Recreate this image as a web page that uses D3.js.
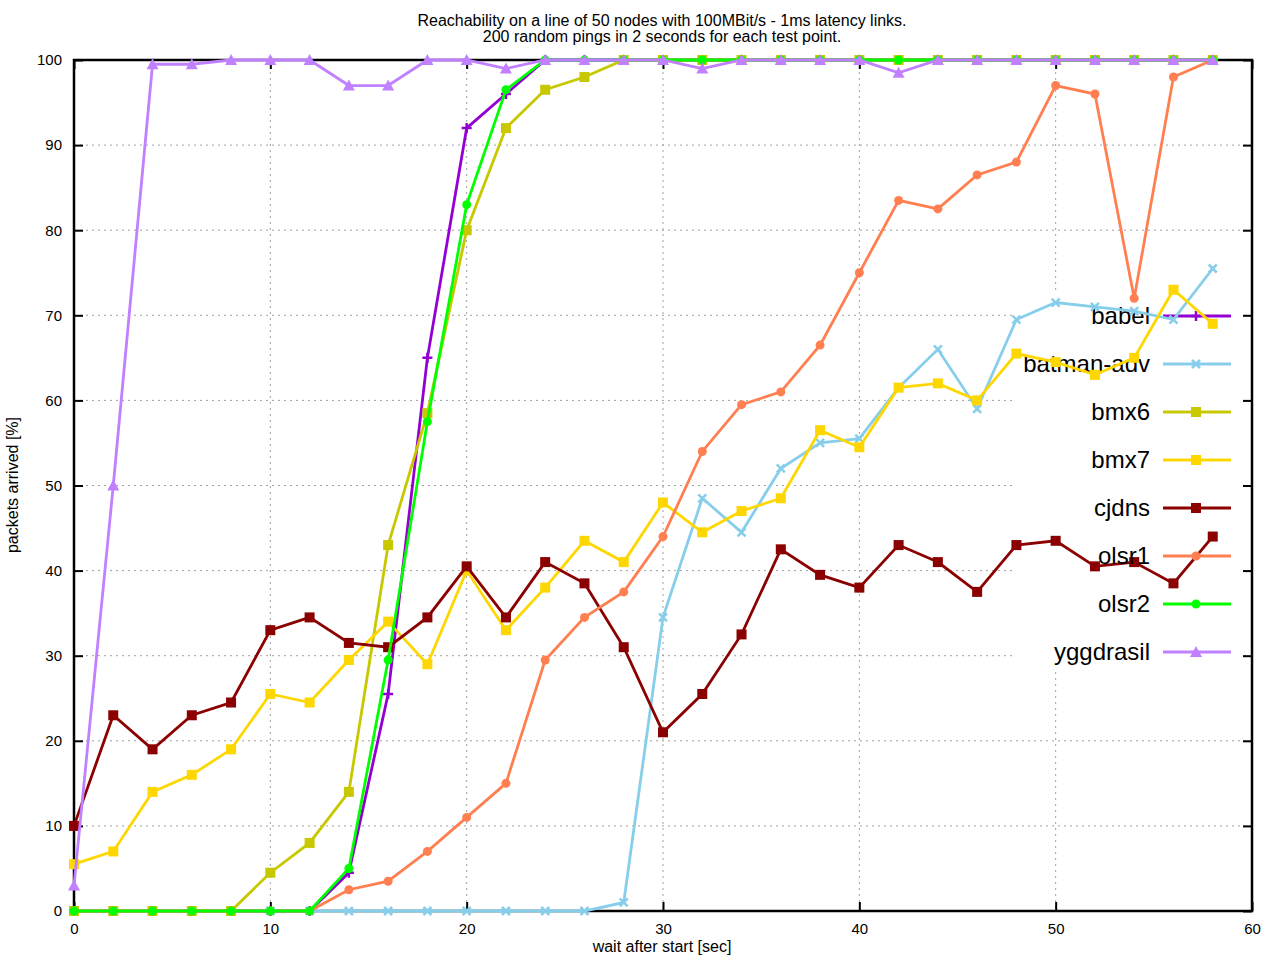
<!DOCTYPE html>
<head>
<meta charset="utf-8">
<script src="https://d3js.org/d3.v7.min.js"></script>
<style>
  body { margin: 0; background: white; font-family: 'Liberation Sans', Arial, sans-serif; }
</style>
</head>
<body>
<svg id="chart" width="1280" height="960"></svg>
<script>
var xs = d3.range(0, 60, 2);
var babel     = [0,0,0,0,0,0,0,4.5,25.5,65,92,96,100,100,100,100,100,100,100,100,100,100,100,100,100,100,100,100,100,100];
var batman    = [0,0,0,0,0,0,0,0,0,0,0,0,0,0,1,34.5,48.5,44.5,52,55,55.5,61.5,66,59,69.5,71.5,71,70.5,69.5,75.5];
var bmx6      = [0,0,0,0,0,4.5,8,14,43,58.5,80,92,96.5,98,100,100,100,100,100,100,100,100,100,100,100,100,100,100,100,100];
var bmx7      = [5.5,7,14,16,19,25.5,24.5,29.5,34,29,40,33,38,43.5,41,48,44.5,47,48.5,56.5,54.5,61.5,62,60,65.5,64.5,63,65,73,69];
var cjdns     = [10,23,19,23,24.5,33,34.5,31.5,31,34.5,40.5,34.5,41,38.5,31,21,25.5,32.5,42.5,39.5,38,43,41,37.5,43,43.5,40.5,41,38.5,44];
var olsr1     = [0,0,0,0,0,0,0,2.5,3.5,7,11,15,29.5,34.5,37.5,44,54,59.5,61,66.5,75,83.5,82.5,86.5,88,97,96,72,98,100];
var olsr2     = [0,0,0,0,0,0,0,5,29.5,57.5,83,96.5,100,100,100,100,100,100,100,100,100,100,100,100,100,100,100,100,100,100];
var yggdrasil = [3,50,99.5,99.5,100,100,100,97,97,100,100,99,100,100,100,100,99,100,100,100,100,98.5,100,100,100,100,100,100,100,100];

var series = [
  {name: "babel", values: babel, color: "#9400d3", mark: "plus"},
  {name: "batman-adv", values: batman, color: "#87ceeb", mark: "cross"},
  {name: "bmx6", values: bmx6, color: "#c8c800", mark: "square"},
  {name: "bmx7", values: bmx7, color: "#ffd700", mark: "square"},
  {name: "cjdns", values: cjdns, color: "#8b0000", mark: "square"},
  {name: "olsr1", values: olsr1, color: "#ff7f50", mark: "circle"},
  {name: "olsr2", values: olsr2, color: "#00ff00", mark: "circle"},
  {name: "yggdrasil", values: yggdrasil, color: "#c080ff", mark: "triangle"}
];

var svg = d3.select("#chart");
var L = 74, R = 1252, T = 60, B = 911;
var x = d3.scaleLinear().domain([0, 60]).range([L, R]);
var y = d3.scaleLinear().domain([0, 100]).range([B, T]);

// grid
var g = svg.append("g");
x.ticks(6).forEach(function (t) {
  if (t > 0 && t < 60) g.append("line").attr("x1", x(t)).attr("x2", x(t)).attr("y1", T).attr("y2", B)
    .attr("stroke", "#a0a0a0").attr("stroke-dasharray", "2,4").attr("stroke-width", 1);
});
y.ticks(10).forEach(function (t) {
  if (t > 0 && t < 100) g.append("line").attr("x1", L).attr("x2", R).attr("y1", y(t)).attr("y2", y(t))
    .attr("stroke", "#a0a0a0").attr("stroke-dasharray", "2,4").attr("stroke-width", 1);
});

// legend background (opaque)
svg.append("rect").attr("x", 1012).attr("y", 292).attr("width", 228).attr("height", 380).attr("fill", "white");

// axes
var ax = svg.append("g").attr("transform", "translate(0," + B + ")")
  .call(d3.axisBottom(x).ticks(6).tickSize(-9).tickPadding(12));
var ax2 = svg.append("g").attr("transform", "translate(0," + T + ")")
  .call(d3.axisTop(x).ticks(6).tickSize(-9).tickFormat(""));
var ay = svg.append("g").attr("transform", "translate(" + L + ",0)")
  .call(d3.axisLeft(y).ticks(10).tickSize(-9).tickPadding(12));
var ay2 = svg.append("g").attr("transform", "translate(" + R + ",0)")
  .call(d3.axisRight(y).ticks(10).tickSize(-9).tickFormat(""));
[ax, ax2, ay, ay2].forEach(function (a) {
  a.select(".domain").remove();
  a.selectAll("line").attr("stroke", "black").attr("stroke-width", 2);
  a.selectAll("text").attr("font-size", 15).attr("font-family", "'Liberation Sans', Arial, sans-serif").attr("fill", "black");
});
svg.append("rect").attr("x", L).attr("y", T).attr("width", R - L).attr("height", B - T)
  .attr("fill", "none").attr("stroke", "black").attr("stroke-width", 2.5);

function marker(sel, kind, color, cx, cy) {
  if (kind === "square") sel.append("rect").attr("x", cx - 5).attr("y", cy - 5).attr("width", 10).attr("height", 10).attr("fill", color);
  else if (kind === "circle") sel.append("circle").attr("cx", cx).attr("cy", cy).attr("r", 4.5).attr("fill", color);
  else if (kind === "triangle") sel.append("path").attr("d", "M" + cx + "," + (cy - 6) + "L" + (cx + 6) + "," + (cy + 5) + "L" + (cx - 6) + "," + (cy + 5) + "Z").attr("fill", color);
  else if (kind === "plus") sel.append("path").attr("d", "M" + (cx - 5) + "," + cy + "H" + (cx + 5) + "M" + cx + "," + (cy - 5) + "V" + (cy + 5)).attr("stroke", color).attr("stroke-width", 2.5);
  else sel.append("path").attr("d", "M" + (cx - 4) + "," + (cy - 4) + "L" + (cx + 4) + "," + (cy + 4) + "M" + (cx - 4) + "," + (cy + 4) + "L" + (cx + 4) + "," + (cy - 4)).attr("stroke", color).attr("stroke-width", 2.5);
}

var line = d3.line().x(function (d, i) { return x(xs[i]); }).y(function (d) { return y(d); });

series.forEach(function (s, k) {
  var sg = svg.append("g");
  sg.append("path").attr("d", line(s.values)).attr("fill", "none").attr("stroke", s.color).attr("stroke-width", 2.8);
  s.values.forEach(function (v, i) { marker(sg, s.mark, s.color, x(xs[i]), y(v)); });
  // legend entry
  var ly = 316 + k * 48;
  svg.append("text").attr("x", 1150).attr("y", ly + 8).attr("text-anchor", "end").attr("font-size", 24).text(s.name);
  sg.append("line").attr("x1", 1163).attr("x2", 1231).attr("y1", ly).attr("y2", ly).attr("stroke", s.color).attr("stroke-width", 2.8);
  marker(sg, s.mark, s.color, 1196, ly);
});

// titles
svg.append("text").attr("x", 662).attr("y", 26).attr("text-anchor", "middle").attr("font-size", 16)
  .text("Reachability on a line of 50 nodes with 100MBit/s - 1ms latency links.");
svg.append("text").attr("x", 662).attr("y", 42).attr("text-anchor", "middle").attr("font-size", 16)
  .text("200 random pings in 2 seconds for each test point.");
svg.append("text").attr("x", 662).attr("y", 952).attr("text-anchor", "middle").attr("font-size", 16).text("wait after start [sec]");
svg.append("text").attr("transform", "translate(18,485) rotate(-90)").attr("text-anchor", "middle").attr("font-size", 16).text("packets arrived [%]");
</script>
</body>
